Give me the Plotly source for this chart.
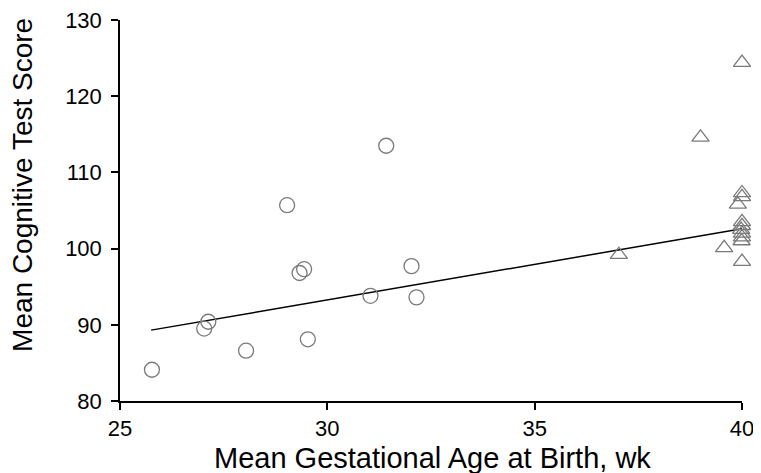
import plotly.graph_objects as go

# Preterm cohorts (circles)
preterm_age = [25.77, 27.03, 27.13, 28.04, 29.03, 29.33, 29.44, 29.53, 31.04, 31.42, 32.03, 32.15]
preterm_score = [84.1, 89.5, 90.4, 86.6, 105.7, 96.8, 97.3, 88.1, 93.8, 113.5, 97.7, 93.6]

# Term / control cohorts (triangles)
term_age = [37.03, 39.0, 40.0, 40.0, 40.0, 39.9, 40.0, 40.0, 39.98, 40.0, 40.0, 39.99, 39.57, 40.0]
term_score = [99.2, 114.6, 124.4, 107.3, 106.8, 105.8, 103.5, 103.0, 102.5, 102.0, 101.5, 101.0, 100.1, 98.3]

# Regression line end points
fit_age = [25.75, 40.0]
fit_score = [89.3, 102.6]

x_ticks = [25, 30, 35, 40]
y_ticks = [80, 90, 100, 110, 120, 130]

FONT = "Liberation Sans, Arial, sans-serif"

fig = go.Figure()
fig.add_trace(go.Scatter(x=fit_age, y=fit_score, mode="lines",
                         line=dict(color="black", width=1.5), showlegend=False, cliponaxis=False))
fig.add_trace(go.Scatter(x=preterm_age, y=preterm_score, mode="markers", showlegend=False, cliponaxis=False,
                         marker=dict(symbol="circle-open", size=15, color="#7a7a7a", line=dict(width=1.3))))
fig.add_trace(go.Scatter(x=term_age, y=term_score, mode="markers", showlegend=False, cliponaxis=False,
                         marker=dict(symbol="triangle-up-open", size=15, color="#7a7a7a", line=dict(width=1.3))))

axis_font = dict(family=FONT, size=22, color="black")
fig.update_layout(
    template="none",
    width=753, height=465,
    margin=dict(l=112, r=19, t=12, b=72, autoexpand=False),
    paper_bgcolor="white", plot_bgcolor="white",
    font=dict(family=FONT, color="black"),
    xaxis=dict(range=[25, 40], tickvals=x_ticks, showgrid=False, zeroline=False, automargin=False,
               showline=True, linecolor="black", linewidth=1.5,
               ticks="outside", ticklen=7, tickwidth=1.5, tickcolor="black",
               ticklabeloverflow="allow",
               tickfont=axis_font),
    yaxis=dict(range=[80, 130], tickvals=y_ticks, showgrid=False, zeroline=False, automargin=False,
               showline=True, linecolor="black", linewidth=1.5,
               ticks="outside", ticklen=7, tickwidth=1.5, tickcolor="black",
               ticklabelstandoff=5, ticklabeloverflow="allow",
               tickfont=axis_font),
    annotations=[
        dict(text="Mean Gestational Age at Birth, wk",
             xref="paper", yref="paper", x=0.503, y=-0.15,
             xanchor="center", yanchor="middle", showarrow=False,
             font=dict(family=FONT, size=29, color="black")),
        dict(text="Mean Cognitive Test Score", textangle=-90,
             xref="paper", yref="paper", x=-0.156, y=0.567,
             xanchor="center", yanchor="middle", showarrow=False,
             font=dict(family=FONT, size=28, color="black")),
    ],
)

fig.write_html("out.html")
